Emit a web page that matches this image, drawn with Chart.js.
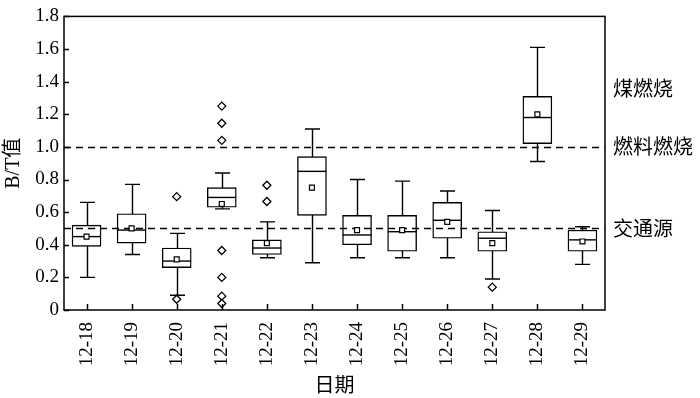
<!DOCTYPE html>
<html>
<head>
<meta charset="utf-8">
<script src="https://cdn.jsdelivr.net/npm/chart.js@4.4.1/dist/chart.umd.min.js"></script>
<style>
  html, body { margin: 0; padding: 0; background: #fff; }
  #wrap { width: 700px; height: 398px; }
</style>
</head>
<body>
<div id="wrap"><canvas id="c" width="700" height="398"></canvas></div>
<script>
// 日期與箱形圖數值
const dates = ['12-18', '12-19', '12-20', '12-21', '12-22', '12-23', '12-24', '12-25', '12-26', '12-27', '12-28', '12-29'];
const whiskerLow  = [0.20, 0.34, 0.09, 0.62, 0.32, 0.29, 0.32, 0.32, 0.32, 0.19, 0.91, 0.28];
const q1          = [0.39, 0.41, 0.26, 0.63, 0.34, 0.58, 0.40, 0.36, 0.44, 0.36, 1.02, 0.36];
const medians     = [0.45, 0.49, 0.30, 0.69, 0.38, 0.85, 0.46, 0.48, 0.55, 0.44, 1.18, 0.43];
const q3          = [0.52, 0.59, 0.38, 0.75, 0.43, 0.94, 0.58, 0.58, 0.66, 0.48, 1.31, 0.49];
const whiskerHigh = [0.66, 0.77, 0.47, 0.84, 0.54, 1.11, 0.80, 0.79, 0.73, 0.61, 1.61, 0.51];
const means       = [0.45, 0.50, 0.31, 0.65, 0.41, 0.75, 0.49, 0.49, 0.54, 0.41, 1.20, 0.42];
const outliers = [
  {x: '12-20', y: 0.695}, {x: '12-20', y: 0.066},
  {x: '12-21', y: 1.25}, {x: '12-21', y: 1.145}, {x: '12-21', y: 1.04},
  {x: '12-21', y: 0.365}, {x: '12-21', y: 0.20}, {x: '12-21', y: 0.085}, {x: '12-21', y: 0.04},
  {x: '12-22', y: 0.765}, {x: '12-22', y: 0.665},
  {x: '12-27', y: 0.14}
];
// 參考線與右側標註
const refLines = [1.0, 0.5];
const sourceNames = ['煤燃烧', '燃料燃烧', '交通源'];
const sourceY = [1.36, 1.0, 0.5];

const serif = '"Liberation Serif", "DejaVu Serif", serif';
const cjk = '"Noto Sans CJK SC", sans-serif';
const lw = 1.4;

// 鬚線、中位線、虛線、外框與刻度
const boxParts = {
  id: 'boxParts',
  beforeDatasetsDraw(chart) {
    const {ctx, scales: {x, y}} = chart;
    ctx.save();
    ctx.strokeStyle = '#000';
    ctx.lineWidth = lw;
    dates.forEach((d, i) => {
      const px = Math.round(x.getPixelForValue(i)) + 0.5;
      const yl = y.getPixelForValue(whiskerLow[i]);
      const yh = y.getPixelForValue(whiskerHigh[i]);
      ctx.beginPath();
      ctx.moveTo(px, yl); ctx.lineTo(px, yh);
      ctx.moveTo(px - 7.5, yl); ctx.lineTo(px + 7.5, yl);
      ctx.moveTo(px - 7.5, yh); ctx.lineTo(px + 7.5, yh);
      ctx.stroke();
    });
    ctx.restore();
  },
  afterDatasetDraw(chart, args) {
    if (args.index !== 0) return;
    const {ctx, chartArea: a, scales: {x, y}} = chart;
    ctx.save();
    ctx.strokeStyle = '#000';
    ctx.lineWidth = lw;
    dates.forEach((d, i) => {
      const px = x.getPixelForValue(i);
      const py = y.getPixelForValue(medians[i]);
      ctx.beginPath();
      ctx.moveTo(px - 14.5, py); ctx.lineTo(px + 14.5, py);
      ctx.stroke();
    });
    ctx.setLineDash([7, 5]);
    refLines.forEach(v => {
      const py = Math.round(y.getPixelForValue(v)) + 0.5;
      ctx.beginPath();
      ctx.moveTo(a.left, py); ctx.lineTo(a.right, py);
      ctx.stroke();
    });
    ctx.restore();
  },
  afterDatasetsDraw(chart) {
    const {ctx, chartArea: a, scales: {x, y}} = chart;
    ctx.save();
    ctx.strokeStyle = '#000';
    ctx.lineWidth = 1.5;
    ctx.strokeRect(a.left, a.top, a.right - a.left, a.bottom - a.top);
    ctx.beginPath();
    dates.forEach((d, i) => {
      const px = Math.round(x.getPixelForValue(i)) + 0.5;
      ctx.moveTo(px, a.bottom); ctx.lineTo(px, a.bottom - 6);
    });
    y.ticks.forEach(t => {
      const py = Math.round(y.getPixelForValue(t.value)) + 0.5;
      ctx.moveTo(a.left, py); ctx.lineTo(a.left + 5, py);
    });
    ctx.stroke();
    ctx.fillStyle = '#000';
    ctx.font = '20px ' + cjk;
    ctx.textBaseline = 'middle';
    ctx.textAlign = 'left';
    sourceNames.forEach((s, i) => {
      ctx.fillText(s, a.right + 8, y.getPixelForValue(sourceY[i]));
    });
    ctx.restore();
  }
};

new Chart(document.getElementById('c'), {
  data: {
    labels: dates,
    datasets: [
      {
        type: 'bar',
        data: q1.map((v, i) => [v, q3[i]]),
        backgroundColor: '#fff',
        borderColor: '#000',
        borderWidth: lw,
        borderSkipped: false,
        barThickness: 29,
        order: 3
      },
      {
        type: 'line',
        data: means,
        showLine: false,
        pointStyle: 'rect',
        pointRadius: 3.5,
        pointBackgroundColor: '#fff',
        pointBorderColor: '#000',
        pointBorderWidth: 1.2,
        order: 2
      },
      {
        type: 'line',
        data: outliers,
        showLine: false,
        pointStyle: 'rectRot',
        pointRadius: 4,
        pointBackgroundColor: '#fff',
        pointBorderColor: '#000',
        pointBorderWidth: 1.3,
        order: 1
      }
    ]
  },
  options: {
    responsive: false,
    animation: false,
    layout: { padding: { top: 12, right: 95, left: 0, bottom: 0 } },
    plugins: { legend: { display: false }, tooltip: { enabled: false } },
    scales: {
      x: {
        type: 'category',
        offset: true,
        grid: { display: false, drawTicks: false },
        border: { display: false },
        ticks: { color: '#000', font: { family: serif, size: 19 }, minRotation: 90, maxRotation: 90, padding: 12 },
        title: { display: true, text: '日期', color: '#000', font: { family: cjk, size: 20 }, padding: { top: 0, bottom: 2 } },
        afterFit(s) { s.height = 88; }
      },
      y: {
        min: 0, max: 1.8,
        grid: { display: false, drawTicks: false },
        border: { display: false },
        ticks: {
          stepSize: 0.2, color: '#000', padding: 5,
          font: { family: serif, size: 19 },
          callback: v => v === 0 ? '0' : v.toFixed(1)
        },
        title: { display: true, text: 'B/T值', color: '#000', font: { family: serif + ', ' + cjk, size: 20 }, padding: { top: 2, bottom: 0 } },
        afterFit(s) { s.width = 64; }
      }
    }
  },
  plugins: [boxParts]
});
</script>
</body>
</html>
